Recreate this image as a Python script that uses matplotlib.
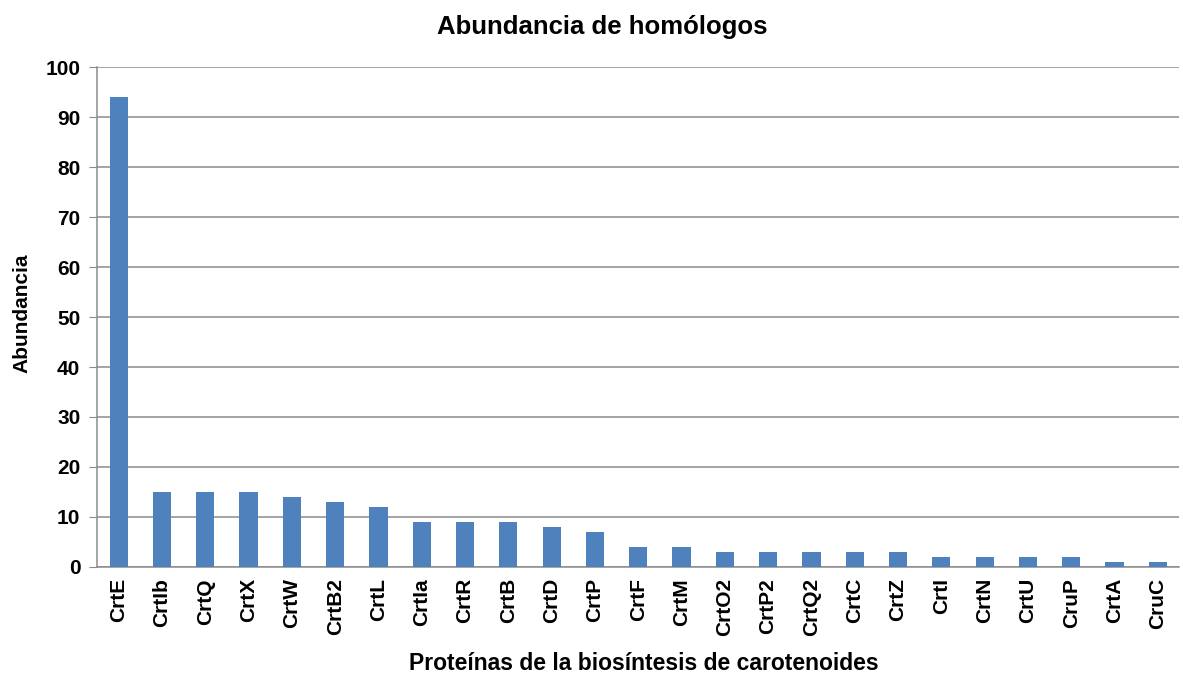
import matplotlib
matplotlib.use('Agg')
import matplotlib.pyplot as plt

proteinas = ['CrtE', 'CrtIb', 'CrtQ', 'CrtX', 'CrtW', 'CrtB2', 'CrtL', 'CrtIa', 'CrtR',
             'CrtB', 'CrtD', 'CrtP', 'CrtF', 'CrtM', 'CrtO2', 'CrtP2', 'CrtQ2', 'CrtC',
             'CrtZ', 'CrtI', 'CrtN', 'CrtU', 'CruP', 'CrtA', 'CruC']
abundancia = [94, 15, 15, 15, 14, 13, 12, 9, 9, 9, 8, 7, 4, 4, 3, 3, 3, 3, 3, 2, 2, 2, 2, 1, 1]

plt.rcParams['font.family'] = ['Liberation Sans', 'DejaVu Sans']

fig = plt.figure(figsize=(11.83, 6.77), dpi=100)
ax = fig.add_axes([0.082, 0.1625, 0.915, 0.7385])

ax.bar(range(len(proteinas)), abundancia, width=0.42, color='#4F81BD', zorder=3)

ax.set_xlim(-0.5, len(proteinas) - 0.5)
ax.set_ylim(0, 100)
ax.set_yticks(range(0, 101, 10))
ax.set_xticks(range(len(proteinas)))
ax.set_xticklabels(proteinas, rotation=90)
ax.grid(axis='y', color='#8c8c8c', linewidth=1.1, zorder=0)

for s in ['top', 'right']:
    ax.spines[s].set_visible(False)
for s in ['left', 'bottom']:
    ax.spines[s].set_color('#8c8c8c')
    ax.spines[s].set_linewidth(1.1)

ax.tick_params(axis='y', length=6, color='#8c8c8c', labelsize=15, pad=6)
ax.tick_params(axis='x', length=0, labelsize=15, pad=8)
for lbl in ax.get_xticklabels() + ax.get_yticklabels():
    lbl.set_fontweight('bold')

fig.text(0.509, 0.9498, 'Abundancia de homólogos', fontsize=18.5, fontweight='bold',
         ha='center', va='baseline')
fig.text(0.544, 0.0103, 'Proteínas de la biosíntesis de carotenoides', fontsize=16.5,
         fontweight='bold', ha='center', va='baseline')
fig.text(0.0185, 0.537, 'Abundancia', fontsize=15, fontweight='bold', rotation=90,
         ha='center', va='center')

plt.savefig('out.png', dpi=100)
